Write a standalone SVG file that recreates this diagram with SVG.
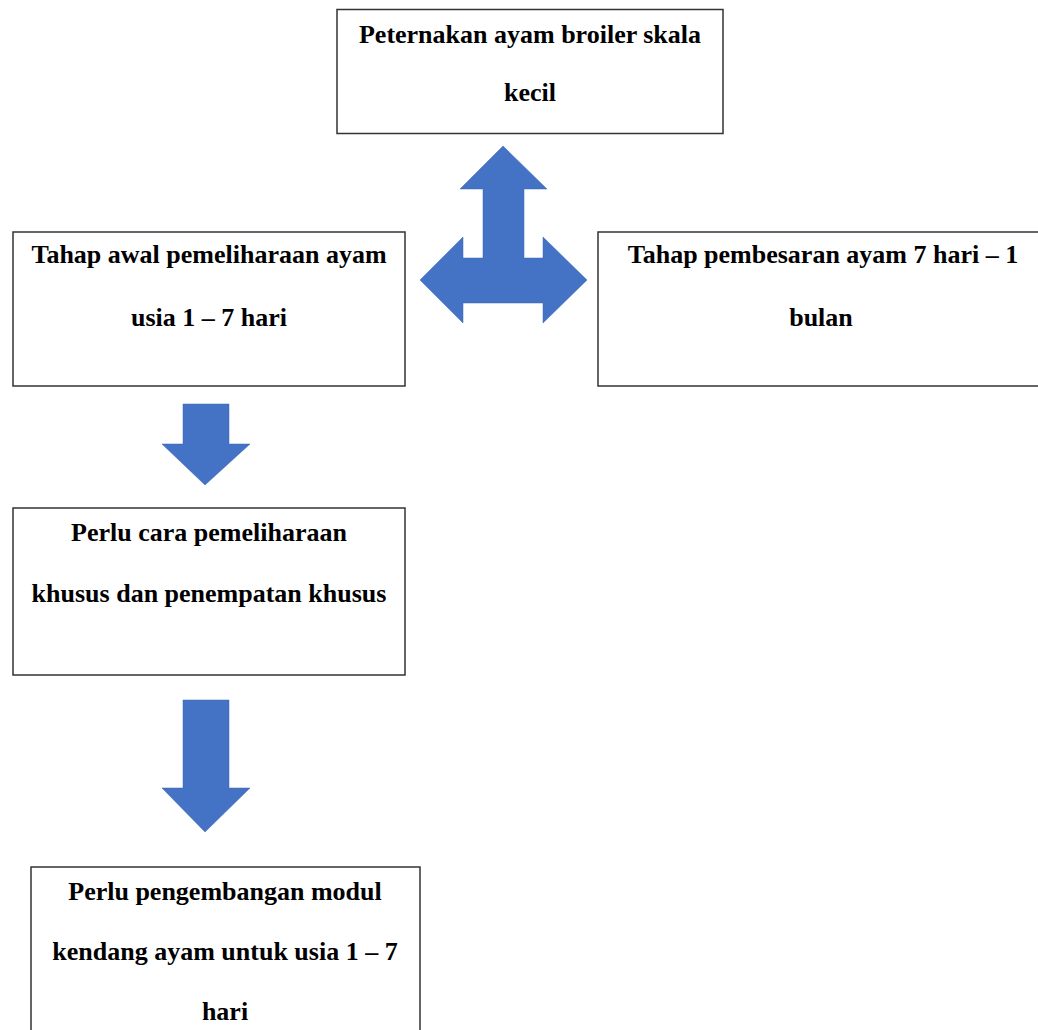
<svg xmlns="http://www.w3.org/2000/svg" width="1038" height="1030" viewBox="0 0 1038 1030">
<style>
.box{fill:#fff;stroke:#333;stroke-width:1.5}
.t{font-family:"Liberation Serif",serif;font-weight:bold;font-size:26px;fill:#000;text-anchor:middle}
.arr{fill:#4472C4;stroke:#3a64b0;stroke-width:0.5}
</style>
<rect width="1038" height="1030" fill="#fff"/>
<g id="connectors">
<polygon class="arr" points="503,146 547,189 524,189 524,258 543,258 543,237 587,280 543,323 543,303 463,303 463,323 420,280 463,237 463,258 483,258 483,189 460,189"/>
<polygon class="arr" points="183,404 229,404 229,444 250,444 205,485 162,444 183,444"/>
<polygon class="arr" points="183,700 229,700 229,788 250,788 205,832 162,788 183,788"/>
</g>
<g id="node1">
<rect class="box" x="337" y="9.5" width="386" height="124"/>
<text class="t" x="530" y="43">Peternakan ayam broiler skala</text>
<text class="t" x="530" y="101">kecil</text>
</g>
<g id="node2">
<rect class="box" x="13" y="232" width="392" height="154"/>
<text class="t" x="209" y="263">Tahap awal pemeliharaan ayam</text>
<text class="t" x="209" y="326">usia 1 – 7 hari</text>
</g>
<g id="node3">
<rect class="box" x="598" y="232" width="445" height="154"/>
<text class="t" x="823" y="263">Tahap pembesaran ayam 7 hari – 1</text>
<text class="t" x="821" y="326">bulan</text>
</g>
<g id="node4">
<rect class="box" x="13" y="508" width="392" height="167"/>
<text class="t" x="209" y="541">Perlu cara pemeliharaan</text>
<text class="t" x="209" y="602">khusus dan penempatan khusus</text>
</g>
<g id="node5">
<rect class="box" x="31" y="867" width="389" height="180"/>
<text class="t" x="225" y="900">Perlu pengembangan modul</text>
<text class="t" x="225" y="960">kendang ayam untuk usia 1 – 7</text>
<text class="t" x="225" y="1020">hari</text>
</g>
</svg>
